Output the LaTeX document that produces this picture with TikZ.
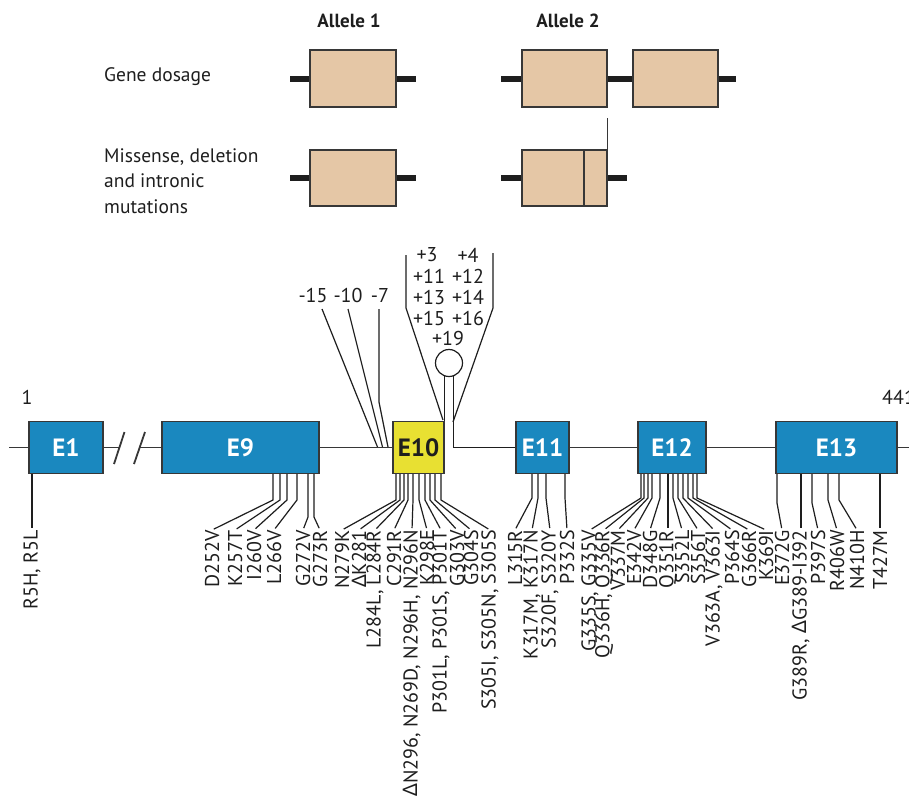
\documentclass[tikz,border=0pt]{standalone}
\usepackage{fontspec}
\setmainfont{PT Sans}
\newfontfamily\dfont{Noto Sans}
\newcommand{\Dl}{{\dfont Δ}}
\definecolor{exblue}{RGB}{26,136,191}
\definecolor{exyellow}{RGB}{232,224,50}
\definecolor{peach}{RGB}{229,199,166}
\definecolor{boxline}{RGB}{55,55,55}
\definecolor{ink}{RGB}{30,30,30}
\newcommand{\mut}[6]{%
  \node[mlab] (#4) at (#5,530) {#6};
  \draw[lead] (#1.south -| #2,0) -- (#2,#3) -- (#4.east);
}
\begin{document}
\begin{tikzpicture}[x=1pt,y=-1pt,
  exon/.style={draw=boxline, fill=exblue, line width=1.3pt, inner sep=0pt,
    minimum height=52pt, text=white, font=\fontsize{25}{25}\selectfont\bfseries},
  allele/.style={draw=boxline, fill=peach, line width=1.3pt, inner sep=0pt,
    minimum width=86pt},
  stub/.style={line width=6pt, draw=ink},
  track/.style={line width=1.8pt, draw=boxline},
  thinline/.style={line width=1.2pt, draw=ink},
  lead/.style={line width=1.2pt, draw=ink, shorten >=2pt},
  mlab/.style={rotate=90, anchor=east, inner sep=0pt, text=ink,
    font=\fontsize{20}{20}\selectfont},
  num/.style={inner sep=0pt, text=ink, font=\fontsize{20}{20}\selectfont},
  head/.style={inner sep=0pt, text=ink, font=\fontsize{19}{19}\selectfont\bfseries},
  rowlab/.style={inner sep=0pt, text=ink, anchor=west, align=left,
    font=\fontsize{19.5}{25.5}\selectfont},
]
\useasboundingbox[fill=white] (0,0) rectangle (909,798);

% ---------- top: alleles ----------
\node[head] (al1) at (349,21) {Allele 1};
\node[head] (al2) at (568,21) {Allele 2};
\node[rowlab] (gd) at (104,77) {Gene dosage};
\node[rowlab] (mis) at (104,181) {Missense, deletion\\and intronic\\mutations};

\node[allele, minimum height=57pt] (A1) at (353,78.5) {};
\node[allele, minimum height=57pt, minimum width=85pt] (A2) at (564.5,78.5) {};
\node[allele, minimum height=57pt, minimum width=85pt] (A3) at (675.5,78.5) {};
\node[allele, minimum height=56pt] (B1) at (353,178) {};
\node[allele, minimum height=56pt, minimum width=85pt] (B2) at (564.5,178) {};

\draw[stub] (A1.west) -- ++(-19,0);
\draw[stub] (A1.east) -- ++(19,0);
\draw[stub] (A2.west) -- ++(-20,0);
\draw[stub] (A2.east) -- (A3.west);
\draw[stub] (A3.east) -- ++(17,0);
\draw[stub] (B1.west) -- ++(-19,0);
\draw[stub] (B1.east) -- ++(19,0);
\draw[stub] (B2.west) -- ++(-20,0);
\draw[stub] (B2.east) -- ++(19,0);
\draw[line width=1.3pt, draw=boxline] (B2.north -| 584,0) -- (B2.south -| 584,0);
\draw[line width=1.3pt, draw=boxline] (B2.north east) -- ++(0,-31);

% ---------- gene track ----------
\node[num] (one) at (27,397) {1};
\node[num, anchor=west] (end) at (882,397) {441};

\node[exon, minimum width=74pt] (E1) at (66,447.5) {E1};
\node[exon, minimum width=157pt] (E9) at (240.5,447.5) {E9};
\node[exon, minimum width=51pt, fill=exyellow, text=ink] (E10) at (418.5,447.5) {E10};
\node[exon, minimum width=53pt] (E11) at (542.5,447.5) {E11};
\node[exon, minimum width=68pt] (E12) at (672,447.5) {E12};
\node[exon, minimum width=121pt] (E13) at (836.5,447.5) {E13};

\coordinate (tstart) at (9,447.5);
\coordinate (tend) at (909,447.5);
\coordinate (s1) at (119.5,447.5);
\coordinate (s2) at (140,447.5);
\draw[track] (tstart) -- (E1.west);
\draw[track] (E1.east) -- (s1);
\draw[track] (s2) -- (E9.west);
\draw[track] (E9.east) -- (E10.west);
\draw[track] (E11.east) -- (E12.west);
\draw[track] (E12.east) -- (E13.west);
\draw[track] (E13.east) -- (tend);
\draw[track] (114,464) -- (124.5,432);
\draw[track] (134,464) -- (145,432);

% hairpin loop
\node[circle, draw=ink, line width=1.2pt, minimum size=27pt, inner sep=0pt] (loop) at (449,363) {};
\draw[thinline] (loop.-107) -- (loop.-107 |- E10.north);
\draw[thinline] (loop.-73) -- (loop.-73 |- E11.west) -- (E11.west);

% intronic labels
\node[num] (p3) at (427,255) {+3};
\node[num] (p4) at (468,255) {+4};
\node[num] (p11) at (429,276) {+11};
\node[num] (p12) at (468,276) {+12};
\node[num] (p13) at (429,297) {+13};
\node[num] (p14) at (468,297) {+14};
\node[num] (p15) at (429,318) {+15};
\node[num] (p16) at (468,318) {+16};
\node[num] (p19) at (448,338) {+19};
\coordinate (fl1) at (406,255);
\coordinate (fl2) at (406,308);
\coordinate (fl3) at (443,420);
\coordinate (fr1) at (493,253);
\coordinate (fr2) at (493,308);
\coordinate (fr3) at (453,422);
\draw[thinline] (fl1) -- (fl2) -- (fl3);
\draw[thinline] (fr1) -- (fr2) -- (fr3);

\node[num] (m15) at (313,295) {-15};
\node[num] (m10) at (348,295) {-10};
\node[num] (m7) at (380,295) {-7};
\coordinate (c15) at (322,309);
\coordinate (c10) at (348,309);
\coordinate (c7) at (379,309);
\draw[thinline] (c15) -- (377.5,447);
\draw[thinline] (c10) -- (382.5,447);
\draw[thinline] (c7) -- (379,402) -- (388,447);

% ---------- mutations ----------
\mut{E1}{32}{500}{r5}{32}{R5H, R5L}
\mut{E9}{273}{500}{d252}{212}{D252V}
\mut{E9}{280}{500}{k257}{235}{K257T}
\mut{E9}{287}{500}{i260}{254}{I260V}
\mut{E9}{297}{500}{l266}{274}{L266V}
\mut{E9}{308}{517}{g272}{303}{G272V}
\mut{E9}{314}{517}{g273}{320}{G273R}
\mut{E10}{396}{500}{n279}{342}{N279K}
\mut{E10}{400}{500}{k281}{359}{\Dl K281}
\mut{E10}{404}{500}{l284}{375}{L284L, L284R}
\mut{E10}{408}{500}{c291}{394}{C291R}
\mut{E10}{413}{500}{n296}{412}{\Dl N296, N269D, N296H, N296N}
\mut{E10}{419}{500}{k298}{427}{K298E}
\mut{E10}{425}{500}{p301}{441}{P301L, P301S, P301T}
\mut{E10}{430}{500}{g303}{457}{G303V}
\mut{E10}{435}{500}{g304}{471}{G304S}
\mut{E10}{441}{500}{s305}{490}{S305I, S305N, S305S}
\mut{E11}{532}{498}{l315}{515}{L315R}
\mut{E11}{538}{498}{k317}{532}{K317M, K317N}
\mut{E11}{546}{498}{s320}{550}{S320F, S320Y}
\mut{E11}{565}{498}{p332}{567}{P332S}
\mut{E12}{641}{498}{g335}{590}{G335S, G335V}
\mut{E12}{644}{498}{q336}{604}{Q336H, Q336R}
\mut{E12}{648}{498}{v337}{618}{V337M}
\mut{E12}{652}{498}{e342}{634}{E342V}
\mut{E12}{660}{498}{d348}{650}{D348G}
\mut{E12}{668}{498}{q351}{668}{Q351R}
\mut{E12}{673}{498}{s352}{682}{S352L}
\mut{E12}{678}{498}{s356}{698}{S356T}
\mut{E12}{683}{498}{v363}{714}{V363A, V363I}
\mut{E12}{688}{498}{p364}{732}{P364S}
\mut{E12}{693}{498}{g366}{749}{G366R}
\mut{E12}{697}{498}{k369}{766}{K369I}
\mut{E13}{777}{503}{e372}{782}{E372G}
\mut{E13}{801}{503}{g389}{801}{G389R, \Dl G389-I392}
\mut{E13}{812}{503}{p397}{818}{P397S}
\mut{E13}{828}{500}{r406}{837}{R406W}
\mut{E13}{839}{500}{n410}{857}{N410H}
\mut{E13}{880}{500}{t427}{880}{T427M}
\end{tikzpicture}
\end{document}
